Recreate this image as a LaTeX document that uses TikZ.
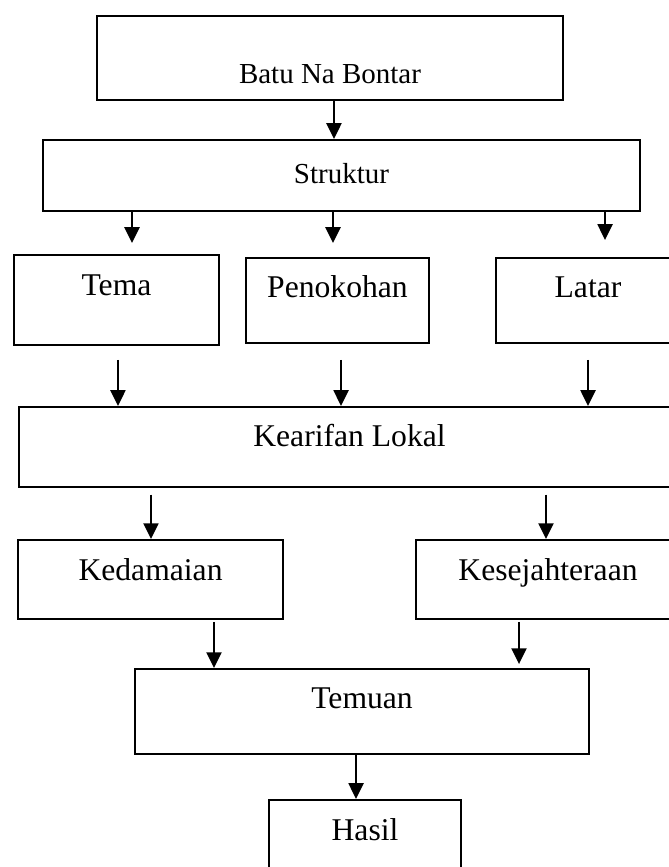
\documentclass[tikz,border=0pt]{standalone}
\usepackage{fontspec}
\setmainfont{Liberation Serif}
\usetikzlibrary{arrows.meta}

\begin{document}
\begin{tikzpicture}[box/.style={draw, line width=0.7pt, inner sep=0pt, anchor=north, font=\fontsize{12}{14}\selectfont}, arr/.style={line width=0.75pt, -{Triangle[length=0.21cm,width=0.2cm]}}]
\useasboundingbox (0,0) rectangle (8.907,-11.56);
\node[box, font=\fontsize{11}{13}\selectfont, minimum width=6.213cm, text height=0.907cm, text depth=0.213cm] (batu) at (4.4,-0.2) {Batu Na Bontar};
\node[box, font=\fontsize{11}{13}\selectfont, minimum width=7.96cm, text height=0.587cm, text depth=0.36cm] (struktur) at (4.553,-1.853) {Struktur};
\node[box, minimum width=2.733cm, text height=0.547cm, text depth=0.653cm] (tema) at (1.553,-3.387) {Tema};
\node[box, minimum width=2.44cm, text height=0.533cm, text depth=0.6cm] (tokoh) at (4.5,-3.427) {Penokohan};
\node[box, minimum width=2.453cm, text height=0.533cm, text depth=0.6cm] (latar) at (7.84,-3.427) {Latar};
\node[box, minimum width=8.813cm, text height=0.533cm, text depth=0.533cm] (kearifan) at (4.66,-5.413) {Kearifan Lokal};
\node[box, minimum width=3.533cm, text height=0.547cm, text depth=0.507cm] (damai) at (2.007,-7.187) {Kedamaian};
\node[box, minimum width=3.52cm, text height=0.547cm, text depth=0.507cm] (sejahtera) at (7.307,-7.187) {Kesejahteraan};
\node[box, minimum width=6.053cm, text height=0.533cm, text depth=0.6cm] (temuan) at (4.827,-8.907) {Temuan};
\node[box, minimum width=2.56cm, text height=0.547cm, text depth=0.6cm] (hasil) at (4.867,-10.653) {Hasil};
% columns of the arrows
\coordinate (xa) at (4.453,0); \coordinate (xb) at (1.76,0); \coordinate (xc) at (4.44,0); \coordinate (xd) at (8.067,0);
\coordinate (xe) at (1.573,0); \coordinate (xf) at (4.547,0); \coordinate (xg) at (7.84,0);
\coordinate (xh) at (2.013,0); \coordinate (xi) at (7.28,0); \coordinate (xj) at (2.853,0); \coordinate (xk) at (6.92,0); \coordinate (xl) at (4.747,0);
\draw[arr] (batu.south -| xa) -- (struktur.north -| xa);
\draw[arr, shorten >=0.147cm] (struktur.south -| xb) -- (tema.north -| xb);
\draw[arr, shorten >=0.187cm] (struktur.south -| xc) -- (tokoh.north -| xc);
\draw[arr, shorten >=0.227cm] (struktur.south -| xd) -- (latar.north -| xd);
\draw[arr, shorten <=0.187cm] (tema.south -| xe) -- (kearifan.north -| xe);
\draw[arr, shorten <=0.213cm] (tokoh.south -| xf) -- (kearifan.north -| xf);
\draw[arr, shorten <=0.213cm] (latar.south -| xg) -- (kearifan.north -| xg);
\draw[arr, shorten <=0.093cm] (kearifan.south -| xh) -- (damai.north -| xh);
\draw[arr, shorten <=0.093cm] (kearifan.south -| xi) -- (sejahtera.north -| xi);
\draw[arr, shorten <=0.027cm] (damai.south -| xj) -- (temuan.north -| xj);
\draw[arr, shorten <=0.027cm, shorten >=0.053cm] (sejahtera.south -| xk) -- (temuan.north -| xk);
\draw[arr] (temuan.south -| xl) -- (hasil.north -| xl);
\end{tikzpicture}
\end{document}
